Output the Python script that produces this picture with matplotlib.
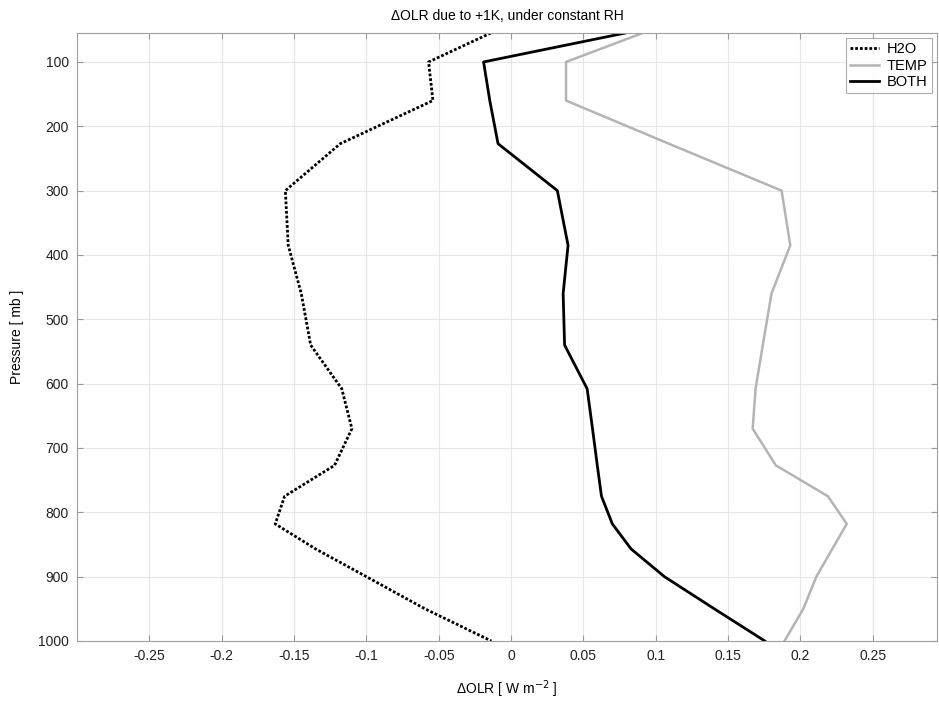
import numpy as np
import matplotlib.pyplot as plt

plt.rcParams['font.family'] = ['Liberation Sans Narrow', 'Liberation Sans', 'DejaVu Sans']

# pressure levels [mb] and OLR changes [W m-2]
pres = [55, 100, 160, 227, 300, 385, 460, 540, 608, 670, 727, 775, 818, 857, 900, 950, 1000]
h2o = [-0.014, -0.057, -0.054, -0.118, -0.156, -0.154, -0.145, -0.1385, -0.117, -0.110,
       -0.122, -0.1565, -0.163, -0.135, -0.100, -0.0595, -0.0136]
temp = [0.091, 0.038, 0.038, 0.109, 0.187, 0.193, 0.180, 0.174, 0.169, 0.167,
        0.183, 0.219, 0.232, 0.222, 0.211, 0.202, 0.189]
both = [0.079, -0.019, -0.0147, -0.009, 0.032, 0.0394, 0.036, 0.037, 0.0526, 0.0563,
        0.0596, 0.0625, 0.070, 0.083, 0.106, 0.1405, 0.1754]

xticks = [-0.25, -0.2, -0.15, -0.1, -0.05, 0, 0.05, 0.1, 0.15, 0.2, 0.25]
xticklabels = ['-0.25', '-0.2', '-0.15', '-0.1', '-0.05', '0', '0.05', '0.1', '0.15', '0.2', '0.25']
yticks = [100, 200, 300, 400, 500, 600, 700, 800, 900, 1000]

fig = plt.figure(figsize=(9.39, 7.02), dpi=100)
ax = fig.add_axes([77 / 939, 1 - 641 / 702, 860 / 939, 608 / 702])

ax.plot(h2o, pres, color='black', linestyle=(0, (1.0, 0.7)), linewidth=2.0, label='H2O')
ax.plot(temp, pres, color='#b4b4b4', linewidth=1.8, label='TEMP')
ax.plot(both, pres, color='black', linewidth=2.0, label='BOTH')

ax.set_xlim(-0.3, 0.2944)
ax.set_ylim(1000, 55)
ax.set_xticks(xticks)
ax.set_xticklabels(xticklabels)
ax.set_yticks(yticks)
ax.grid(True, color='#e6e6e6', linewidth=0.8)
ax.set_axisbelow(True)
ax.tick_params(direction='in', length=4, color='#999999', labelsize=10, pad=6,
               right=True, top=True, labelcolor='#222222')
for s in ax.spines.values():
    s.set_color('#a0a0a0')

ax.set_title('\u0394OLR due to +1K, under constant RH', fontsize=10, pad=9)
ax.set_xlabel('\u0394OLR [ W m$^{-2}$ ]', fontsize=10, labelpad=11)
ax.set_ylabel('Pressure [ mb ]', fontsize=10, labelpad=10)

leg = ax.legend(loc='upper right', fontsize=10.5, frameon=True, fancybox=False,
                handlelength=2.0, handletextpad=0.5, borderpad=0.3, labelspacing=0.15,
                borderaxespad=0.35)
leg.get_frame().set_edgecolor('#999999')
leg.get_frame().set_linewidth(0.8)

fig.savefig('out.png', dpi=100)
